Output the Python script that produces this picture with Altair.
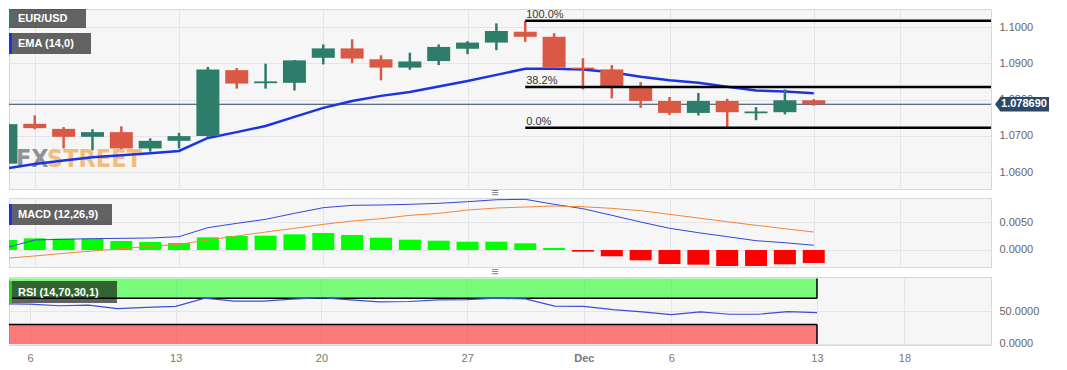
import altair as alt
import pandas as pd

# ---------------- data ----------------
dates = ["2023-11-03", "2023-11-06", "2023-11-07", "2023-11-08", "2023-11-09", "2023-11-10",
         "2023-11-13", "2023-11-14", "2023-11-15", "2023-11-16", "2023-11-17",
         "2023-11-20", "2023-11-21", "2023-11-22", "2023-11-23", "2023-11-24",
         "2023-11-27", "2023-11-28", "2023-11-29", "2023-11-30", "2023-12-01",
         "2023-12-04", "2023-12-05", "2023-12-06", "2023-12-07", "2023-12-08",
         "2023-12-11", "2023-12-12", "2023-12-13"]
opens = [1.0623, 1.0733, 1.0719, 1.0697, 1.0710, 1.0665,
         1.0686, 1.0699, 1.0881, 1.0845, 1.0846,
         1.0915, 1.0941, 1.0911, 1.0888, 1.0906,
         1.0940, 1.0957, 1.0987, 1.0973, 1.0888,
         1.0883, 1.0835, 1.0796, 1.0763, 1.0796,
         1.0762, 1.0765, 1.0798]
highs = [1.0749, 1.0756, 1.0724, 1.0718, 1.0726, 1.0693,
         1.0708, 1.0890, 1.0887, 1.0899, 1.0909,
         1.0952, 1.0966, 1.0922, 1.0929, 1.0952,
         1.0961, 1.1010, 1.1017, 1.0983, 1.0914,
         1.0895, 1.0848, 1.0807, 1.0818, 1.0802,
         1.0779, 1.0828, 1.0801]
lows = [1.0614, 1.0718, 1.0665, 1.0660, 1.0663, 1.0656,
        1.0665, 1.0695, 1.0830, 1.0830, 1.0825,
        1.0897, 1.0900, 1.0853, 1.0882, 1.0895,
        1.0925, 1.0936, 1.0959, 1.0886, 1.0828,
        1.0803, 1.0777, 1.0757, 1.0756, 1.0722,
        1.0743, 1.0759, 1.0783]
closes = [1.0732, 1.0721, 1.0697, 1.0710, 1.0665, 1.0686,
          1.0699, 1.0883, 1.0844, 1.0850, 1.0908,
          1.0941, 1.0913, 1.0888, 1.0905, 1.0945,
          1.0957, 1.0989, 1.0973, 1.0888, 1.0884,
          1.0835, 1.0796, 1.0763, 1.0796, 1.0765,
          1.0767, 1.0798, 1.07869]
ema14 = [1.0610, 1.0622, 1.0632, 1.0641, 1.0646, 1.0652,
         1.0658, 1.0694, 1.0710, 1.0727, 1.0752,
         1.0777, 1.0796, 1.0810, 1.0821, 1.0836,
         1.0851, 1.0868, 1.0885, 1.0885, 1.0883,
         1.0875, 1.0863, 1.0853, 1.0846, 1.0835,
         1.0825, 1.0822, 1.0817]
macd_line = [0.00041, 0.00179, 0.00191, 0.00202, 0.00208, 0.00214,
             0.00238, 0.00399, 0.00476, 0.00548, 0.00655,
             0.00756, 0.00798, 0.00804, 0.00816, 0.00834,
             0.00863, 0.00898, 0.00905, 0.00816, 0.00738,
             0.00620, 0.00500, 0.00388, 0.00309, 0.00238,
             0.00166, 0.00130, 0.00084]
signal_line = [-0.00148, -0.00107, -0.00060, -0.00018, 0.00024, 0.00065,
               0.00101, 0.00179, 0.00250, 0.00321, 0.00387,
               0.00458, 0.00518, 0.00559, 0.00619, 0.00655,
               0.00714, 0.00750, 0.00768, 0.00786, 0.00773,
               0.00744, 0.00702, 0.00637, 0.00571, 0.00505,
               0.00441, 0.00380, 0.00321]
macd_hist = [0.00179, 0.00208, 0.00202, 0.00202, 0.00161, 0.00143,
             0.00125, 0.00226, 0.00250, 0.00256, 0.00280,
             0.00304, 0.00268, 0.00220, 0.00184, 0.00166,
             0.00148, 0.00148, 0.00119, 0.00036, -0.00030,
             -0.00113, -0.00184, -0.00250, -0.00262, -0.00286,
             -0.00286, -0.00256, -0.00232]
rsi14 = [61.5, 61.0, 58.5, 59.5, 54.0, 56.0,
         57.5, 70.0, 65.5, 65.5, 68.5,
         71.0, 67.5, 64.5, 65.0, 67.5,
         68.0, 70.0, 69.0, 58.0, 57.5,
         52.5, 49.0, 45.0, 49.0, 45.5,
         45.5, 49.5, 48.0]

tick_idx = [1, 6, 11, 16, 20, 23, 28, 31]
tick_text = ["6", "13", "20", "27", "Dec", "6", "13", "18"]
price_ticks = [1.06, 1.07, 1.08, 1.09, 1.10]
macd_ticks = [0.0, 0.005]
rsi_ticks = [0, 50]
fib_pct = ["100.0%", "38.2%", "0.0%"]
fib_price = [1.1017, 1.08347, 1.0722]
fib_start_idx = 18
last_price = 1.07869
band_lo = [70, 0]
band_hi = [100, 30]
band_edge = [70, 30]
band_color = ["#00ff00", "#ff0000"]

# ---------------- tables ----------------
n = len(dates)
df = pd.DataFrame({
    "idx": list(range(n)), "date": dates, "open": opens, "high": highs, "low": lows,
    "close": closes, "ema": ema14, "macd": macd_line, "signal": signal_line,
    "hist": macd_hist, "rsi": rsi14,
})

fib_df = pd.DataFrame({"start": [fib_start_idx] * 3, "price": fib_price, "label": fib_pct})
band_df = pd.DataFrame({"start": [0, 0], "end": [n - 1, n - 1], "lo": band_lo, "hi": band_hi,
                        "edge": band_edge, "color": band_color})
last_df = pd.DataFrame({"price": [last_price], "text": [f"{last_price:.6f}"]})
one = pd.DataFrame({"a": [0]})

# ---------------- style ----------------
W = 982
H_MAIN, H_MACD, H_RSI = 180, 69, 68
FONT = "Liberation Sans, Arial, sans-serif"
GREEN, RED = "#2e7d6b", "#d95945"
GRID = "#e3e5e9"

xscale = alt.Scale(domain=[0.28, 33.97], nice=False, zero=False)
label_expr = " : ".join(f"datum.value == {v} ? '{t}'" for v, t in zip(tick_idx, tick_text)) + " : ''"
dec_val = tick_idx[tick_text.index("Dec")]
ax_plain = alt.Axis(values=tick_idx, labels=False, ticks=False, domain=False, grid=True,
                    gridColor=GRID, title=None)
ax_lab = alt.Axis(values=tick_idx, labelExpr=label_expr, ticks=False, domain=False, grid=True,
                  gridColor=GRID, title=None, labelPadding=7, labelColor="#777",
                  labelFontSize=11, labelFont=FONT,
                  labelFontWeight={"expr": f"datum.value == {dec_val} ? 'bold' : 'normal'"})


def X(field, labels=False):
    return alt.X(f"{field}:Q", scale=xscale, axis=ax_lab if labels else ax_plain)


def make_y(domain, ticks):
    sc = alt.Scale(domain=domain, nice=False, zero=False)
    ax = alt.Axis(orient="right", values=ticks, format=".4f", grid=True, gridColor=GRID,
                  domain=False, ticks=False, labelPadding=8, labelColor="#666",
                  labelFontSize=11, labelFont=FONT, title=None)

    def f(field):
        return alt.Y(f"{field}:Q", scale=sc, axis=ax)
    return f


Ym = make_y([1.05531, 1.10497], price_ticks)
Yd = make_y([-0.00304, 0.00929], macd_ticks)
Yr = make_y([-1.53, 102.45], rsi_ticks)


def legend_box(label, stripe, x2, y0, y1, stripe_color):
    box = alt.Chart(one).mark_rect(color="black", opacity=0.6).encode(
        x=alt.value(0), x2=alt.value(x2), y=alt.value(y0), y2=alt.value(y1))
    st = alt.Chart(one).mark_rect(color=stripe_color).encode(
        x=alt.value(0), x2=alt.value(stripe), y=alt.value(y0), y2=alt.value(y1))
    tx = alt.Chart(one).mark_text(text=label, color="white", fontWeight="bold", fontSize=11,
                                  font=FONT, align="left", baseline="middle").encode(
        x=alt.value(9), y=alt.value((y0 + y1) / 2 + 0.5))
    return [box, st, tx]


candle_color = alt.condition("datum.close >= datum.open", alt.value(GREEN), alt.value(RED))
hist_color = alt.condition("datum.hist >= 0", alt.value("#00ff00"), alt.value("#ff0000"))

# ---------------- main panel ----------------
base = alt.Chart(df)
WM_FONT = "Liberation Sans Narrow, DejaVu Sans Condensed, sans-serif"
wm_fx = alt.Chart(one).mark_text(text="FX", font=WM_FONT, fontWeight="bold", fontSize=25,
                                 color="#8d929b", align="left", baseline="alphabetic").encode(
    x=alt.value(7), y=alt.value(158))
wm_st = alt.Chart(one).mark_text(text="STREET", font=WM_FONT, fontWeight="bold", fontSize=25,
                                 color="#f2bd7c", align="left", baseline="alphabetic").encode(
    x=alt.value(38), y=alt.value(158))
price_line = alt.Chart(last_df).mark_rule(color="#2d3f5f", strokeWidth=1).encode(y=Ym("price"))
ema_line = base.mark_line(color="#1b33e2", strokeWidth=2.5, clip=True).encode(x=X("idx"), y=Ym("ema"))
wicks = base.mark_rule(strokeWidth=2.5, clip=True).encode(x=X("idx"), y=Ym("low"), y2="high",
                                                         color=candle_color)
bodies = base.mark_bar(size=23, clip=True).encode(x=X("idx"), y=Ym("open"), y2="close",
                                                 color=candle_color)
fib_rules = alt.Chart(fib_df).mark_rule(color="black", strokeWidth=2.5).encode(
    x=X("start"), x2=alt.value(W), y=Ym("price"))
fib_text = alt.Chart(fib_df).mark_text(align="left", baseline="alphabetic", dy=-3, dx=1,
                                       fontSize=11, font=FONT, color="#333").encode(
    x=X("start"), y=Ym("price"), text="label:N")
tag_shape = "M-1,0L-0.8,-0.265L1,-0.265L1,0.265L-0.8,0.265Z"
price_tag = alt.Chart(last_df).mark_point(shape=tag_shape, size=2916, filled=True, fill="#2d4868",
                                          opacity=1, strokeWidth=0).encode(
    x=alt.value(1013), y=Ym("price"))
price_txt = alt.Chart(last_df).mark_text(color="white", fontWeight="bold", fontSize=11, font=FONT,
                                         align="center", baseline="middle").encode(
    x=alt.value(1015), y=Ym("price"), text="text:N")
handle1 = alt.Chart(one).mark_text(text="≡", fontSize=13, color="#888").encode(
    x=alt.value(486), y=alt.value(H_MAIN + 4))

main = alt.layer(
    wm_fx, wm_st, price_line, ema_line, wicks, bodies, fib_rules, fib_text,
    *legend_box("EUR/USD", 3, 77, 0, 19, GREEN),
    *legend_box("EMA (14,0)", 3, 82, 24, 45, "#1b33e2"),
    price_tag, price_txt, handle1,
).properties(width=W, height=H_MAIN)

# ---------------- MACD panel ----------------
hist_bars = base.mark_bar(size=22, clip=True).encode(
    x=X("idx"), y=Yd("hist"), y2=alt.datum(0), color=hist_color)
macd_l = base.mark_line(color="#3346d6", strokeWidth=1, clip=True).encode(x=X("idx"), y=Yd("macd"))
sig_l = base.mark_line(color="#f0883a", strokeWidth=1, clip=True).encode(x=X("idx"), y=Yd("signal"))
handle2 = alt.Chart(one).mark_text(text="≡", fontSize=13, color="#888").encode(
    x=alt.value(486), y=alt.value(H_MACD + 5))
macd = alt.layer(
    hist_bars, macd_l, sig_l,
    *legend_box("MACD (12,26,9)", 3, 103, 6, 27, "#1b33e2"),
    handle2,
).properties(width=W, height=H_MACD)

# ---------------- RSI panel ----------------
bands = alt.Chart(band_df).mark_rect(opacity=0.5, clip=True).encode(
    x=X("start", True), x2="end", y=Yr("lo"), y2="hi",
    color=alt.Color("color:N", scale=None))
band_h = alt.Chart(band_df).mark_rule(color="black", strokeWidth=1.5, clip=True).encode(
    x=X("start", True), x2="end", y=Yr("edge"))
band_v = alt.Chart(band_df).mark_rule(color="black", strokeWidth=1.5, clip=True).encode(
    x=X("end", True), y=Yr("lo"), y2="hi")
rsi_l = base.mark_line(color="#3a4fd4", strokeWidth=1.2, clip=True).encode(x=X("idx", True), y=Yr("rsi"))
rsi = alt.layer(
    bands, band_h, band_v, rsi_l,
    *legend_box("RSI (14,70,30,1)", 3, 108, 4, 26, "#22d022"),
).properties(width=W, height=H_RSI)

chart = alt.vconcat(
    main,
    alt.vconcat(macd, rsi, spacing=10, bounds="flush"),
    spacing=9, bounds="flush",
).properties(
    padding={"left": 0, "top": 0, "right": 8, "bottom": 6}
).configure_view(
    fill="#f6f6f7", stroke="#d5d8dd", strokeWidth=1
).configure_axis(
    labelFont=FONT
)

chart.save("out.html", embed_options={"renderer": "svg", "actions": False})
